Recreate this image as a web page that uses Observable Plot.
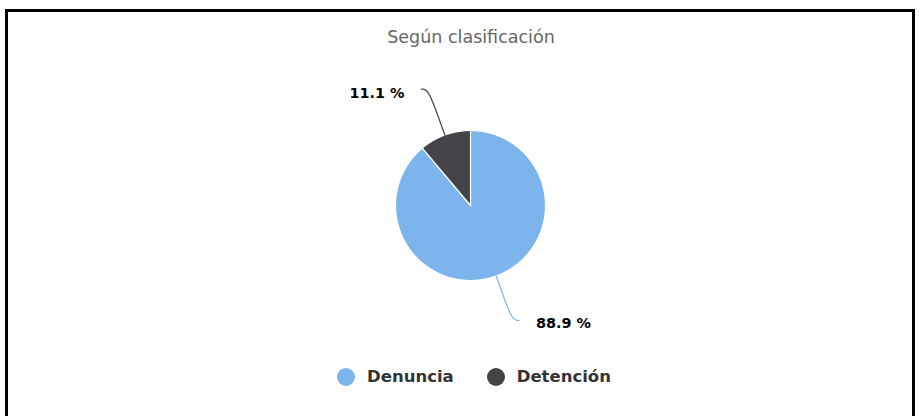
<!DOCTYPE html>
<html><head><meta charset="utf-8">
<script src="https://cdn.jsdelivr.net/npm/d3@7"></script>
<script src="https://cdn.jsdelivr.net/npm/@observablehq/plot@0.6"></script>
<style>
html,body{margin:0;padding:0;background:#fff;font-family:"DejaVu Sans",sans-serif;}
#page{position:relative;width:919px;height:416px;overflow:hidden;}
#frame{position:absolute;left:5px;top:9px;width:904px;height:430px;border:3px solid #000;border-bottom:none;box-sizing:content-box;}
#title{position:absolute;top:26px;left:0;width:942px;text-align:center;font-size:17.5px;line-height:22px;color:#666;}
#chart{position:absolute;left:0;top:55px;}
#legend{position:absolute;left:337px;top:366px;display:flex;align-items:center;height:22px;}
.item{display:flex;align-items:center;margin-right:33px;}
.dot{width:18px;height:18px;border-radius:50%;margin-right:12px;}
.lab{font-size:16.5px;font-weight:bold;color:#333;line-height:22px;}
</style>
</head><body>
<div id="page">
  <div id="frame"></div>
  <div id="title"></div>
  <div id="chart"></div>
  <div id="legend"></div>
</div>
<script>
const titleText = "Según clasificación";
const categories = ["Denuncia", "Detención"];
const values = [88.9, 11.1];
const colors = ["#7cb5ec", "#434348"];
const labels = ["88.9 %", "11.1 %"];

document.getElementById("title").textContent = titleText;

const R = 75, W = 919, H = 300, CX = 470, CY = 150;
const pie = d3.pie().sort(null).value(d => d)(values);
const pt = (a, r) => ({u: r * Math.sin(a), v: r * Math.cos(a)});

const marks = [];
pie.forEach((s, i) => {
  const pts = [pt(0, 0)];
  const n = Math.max(4, Math.ceil((s.endAngle - s.startAngle) / 0.01));
  for (let k = 0; k <= n; k++) pts.push(pt(s.startAngle + (s.endAngle - s.startAngle) * k / n, 1));
  pts.push(pt(0, 0));
  marks.push(Plot.line(pts, {x: "u", y: "v", fill: colors[i], stroke: "#fff", strokeWidth: 1.2, strokeLinejoin: "round"}));
});

pie.forEach((s, i) => {
  const a = (s.startAngle + s.endAngle) / 2;
  const sgn = Math.sin(a) >= 0 ? 1 : -1;
  const edge = pt(a, 1);
  const mid = pt(a, 1.3);
  const knee = pt(a, sgn > 0 ? 1.63 : 1.65);
  const end = {u: knee.u + sgn * 0.09, v: knee.v};
  marks.push(Plot.line([end, knee, mid, edge], {x: "u", y: "v", stroke: colors[i], strokeWidth: 1.2, curve: "basis"}));
  marks.push(Plot.text([end], {x: "u", y: "v", text: () => labels[i], textAnchor: sgn > 0 ? "start" : "end",
    dx: sgn * 17, dy: sgn > 0 ? 3 : 4, fontWeight: "bold", fontSize: 14.4, fill: "#000"}));
});

const chart = Plot.plot({
  width: W, height: H, margin: 0,
  x: {domain: [-CX / R, (W - CX) / R], axis: null},
  y: {domain: [-(H - CY) / R, CY / R], axis: null},
  style: {fontFamily: "DejaVu Sans", background: "transparent", overflow: "visible"},
  marks
});
document.getElementById("chart").appendChild(chart);

const legend = document.getElementById("legend");
categories.forEach((c, i) => {
  const it = document.createElement("div"); it.className = "item";
  const d = document.createElement("div"); d.className = "dot"; d.style.background = colors[i];
  const t = document.createElement("span"); t.className = "lab"; t.textContent = c;
  it.appendChild(d); it.appendChild(t); legend.appendChild(it);
});
</script>
</body></html>
